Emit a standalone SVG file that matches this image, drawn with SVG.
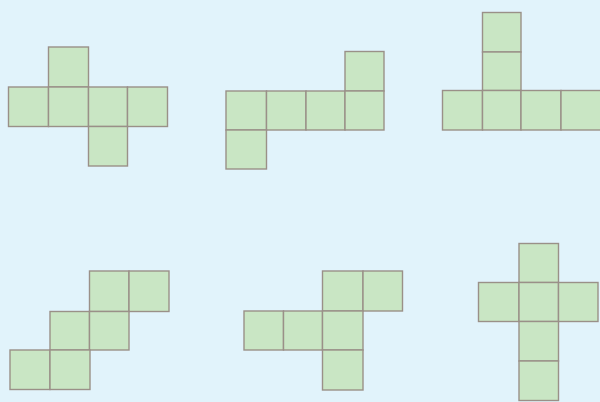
<svg xmlns="http://www.w3.org/2000/svg" width="600" height="402" viewBox="0 0 600 402">
<style>
.bg{fill:#e1f3fb}
.sq{fill:#c9e6c4;stroke:#9a9088;stroke-width:1.4}
</style>
<rect class="bg" x="0" y="0" width="600" height="402"/>
<g id="net1">
<rect class="sq" x="48.5" y="47" width="40" height="40"/>
<rect class="sq" x="8.5" y="87" width="40" height="39.5"/>
<rect class="sq" x="48.5" y="87" width="40" height="39.5"/>
<rect class="sq" x="88.5" y="87" width="39" height="39.5"/>
<rect class="sq" x="127.5" y="87" width="40" height="39.5"/>
<rect class="sq" x="88.5" y="126.5" width="39" height="39.5"/>
</g>
<g id="net2">
<rect class="sq" x="345" y="51.5" width="39" height="39.5"/>
<rect class="sq" x="226" y="91" width="40.5" height="39"/>
<rect class="sq" x="266.5" y="91" width="39.5" height="39"/>
<rect class="sq" x="306" y="91" width="39" height="39"/>
<rect class="sq" x="345" y="91" width="39" height="39"/>
<rect class="sq" x="226" y="130" width="40.5" height="39"/>
</g>
<g id="net3">
<rect class="sq" x="482.5" y="12.5" width="38.5" height="39.5"/>
<rect class="sq" x="482.5" y="52" width="38.5" height="38.5"/>
<rect class="sq" x="442.5" y="90.5" width="40" height="39.5"/>
<rect class="sq" x="482.5" y="90.5" width="38.5" height="39.5"/>
<rect class="sq" x="521" y="90.5" width="40" height="39.5"/>
<rect class="sq" x="561" y="90.5" width="40" height="39.5"/>
</g>
<g id="net4">
<rect class="sq" x="89.5" y="271" width="39.5" height="40.5"/>
<rect class="sq" x="129" y="271" width="40" height="40.5"/>
<rect class="sq" x="50" y="311.5" width="39.5" height="38.5"/>
<rect class="sq" x="89.5" y="311.5" width="39.5" height="38.5"/>
<rect class="sq" x="10" y="350" width="40" height="39.5"/>
<rect class="sq" x="50" y="350" width="40" height="39.5"/>
</g>
<g id="net5">
<rect class="sq" x="322.5" y="271" width="40.5" height="40"/>
<rect class="sq" x="363" y="271" width="39.5" height="40"/>
<rect class="sq" x="244" y="311" width="39.5" height="39"/>
<rect class="sq" x="283.5" y="311" width="39" height="39"/>
<rect class="sq" x="322.5" y="311" width="40.5" height="39"/>
<rect class="sq" x="322.5" y="350" width="40.5" height="40"/>
</g>
<g id="net6">
<rect class="sq" x="519" y="243.5" width="39.5" height="39"/>
<rect class="sq" x="478.5" y="282.5" width="40.5" height="39"/>
<rect class="sq" x="519" y="282.5" width="39.5" height="39"/>
<rect class="sq" x="558.5" y="282.5" width="39.5" height="39"/>
<rect class="sq" x="519" y="321.5" width="39.5" height="39.5"/>
<rect class="sq" x="519" y="361" width="39.5" height="39.5"/>
</g>
<g id="connectors"></g>
</svg>
